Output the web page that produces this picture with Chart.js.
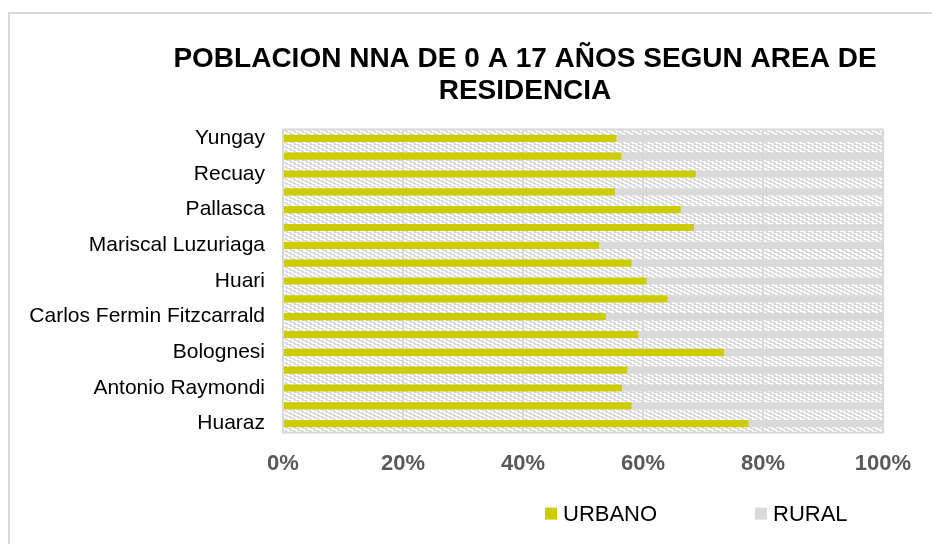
<!DOCTYPE html>
<html>
<head>
<meta charset="utf-8">
<script src="https://cdn.jsdelivr.net/npm/chart.js@4.4.1/dist/chart.umd.min.js"></script>
<style>
  html, body { margin:0; padding:0; background:#fff; overflow:hidden; width:932px; height:544px; }
  #wrap { position:absolute; left:8px; top:12px; width:1030px; height:530px;
          border-left:2px solid #d9d9d9; border-top:2px solid #d9d9d9; }
  #chart { display:block; }
</style>
</head>
<body>
<div id="wrap"><canvas id="chart" width="1030" height="530"></canvas></div>
<script>
// ====== datos ======
const provincias = ["Yungay","Sihuas","Recuay","Pomabamba","Pallasca","Ocros","Mariscal Luzuriaga","Huaylas",
  "Huari","Corongo","Carlos Fermin Fitzcarrald","Carhuaz","Bolognesi","Asuncion","Antonio Raymondi","Aija","Huaraz"];
const urbano = [55.6, 56.4, 68.8, 55.3, 66.3, 68.5, 52.7, 58.1, 60.6, 64.1, 53.8, 59.2, 73.5, 57.4, 56.5, 58.1, 77.6];
const rural  = [44.4, 43.6, 31.2, 44.7, 33.7, 31.5, 47.3, 41.9, 39.4, 35.9, 46.2, 40.8, 26.5, 42.6, 43.5, 41.9, 22.4];
const xTicks = [0, 20, 40, 60, 80, 100];

const GOLD = '#cccc00';
const GREY = '#d9d9d9';

// ====== fondo rayado del area de trazado ======
function makePattern(ctx){
  const c = document.createElement('canvas');
  c.width = 8; c.height = 4;
  const p = c.getContext('2d');
  p.fillStyle = '#fff'; p.fillRect(0,0,8,4);
  p.fillStyle = GREY;
  p.fillRect(0,0,5,1);
  p.fillRect(3,1,3,1);
  p.fillRect(4,2,4,1); p.fillRect(0,2,1,1);
  p.fillRect(7,3,1,1); p.fillRect(0,3,2,1);
  return ctx.createPattern(c,'repeat');
}

const plotBg = {
  id: 'plotBg',
  beforeDraw(chart){
    const {ctx, chartArea:a} = chart;
    ctx.save();
    ctx.fillStyle = makePattern(ctx);
    ctx.fillRect(a.left, a.top, a.right-a.left, a.bottom-a.top);
    ctx.strokeStyle = GREY; ctx.lineWidth = 2;
    ctx.strokeRect(a.left, a.top, a.right-a.left, a.bottom-a.top);
    ctx.restore();
  }
};

// leyenda abajo, desplazada como en el original
const legendBottom = {
  id: 'legendBottom',
  afterDraw(chart){
    const {ctx, chartArea:a} = chart;
    const xs = [a.left + 262, a.left + 472];
    const y = a.bottom + 81;
    ctx.save();
    ctx.font = '22px "Liberation Sans", Arial, sans-serif';
    ctx.textBaseline = 'middle';
    chart.data.datasets.forEach((ds,i)=>{
      ctx.fillStyle = ds.backgroundColor;
      ctx.fillRect(xs[i], y-6, 12, 12);
      ctx.fillStyle = '#000';
      ctx.fillText(ds.label, xs[i]+18, y+1);
    });
    ctx.restore();
  }
};

new Chart(document.getElementById('chart'), {
  type: 'bar',
  data: {
    labels: provincias,
    datasets: [
      { label:'URBANO', data: urbano, backgroundColor: GOLD, borderWidth:0,
        categoryPercentage:0.8, barPercentage:0.5 },
      { label:'RURAL',  data: rural,  backgroundColor: GREY, borderWidth:0,
        categoryPercentage:0.8, barPercentage:0.5 }
    ]
  },
  options: {
    indexAxis: 'y',
    responsive: false,
    animation: false,
    layout: { padding: { top:0, left:0, right:0, bottom:49 } },
    scales: {
      x: {
        stacked: true, min: 0, max: 100,
        afterBuildTicks: s => { s.ticks = xTicks.map(v => ({value:v})); },
        grid: { color: GREY, lineWidth: 2, drawTicks: false },
        border: { display: false },
        ticks: { padding: 18, color: '#595959',
          font: { family:'"Liberation Sans", Arial, sans-serif', size: 22, weight: 'bold' },
          callback: v => v + '%' }
      },
      y: {
        stacked: true,
        grid: { display: false },
        border: { display: false },
        afterFit: s => { s.width = 273; },
        ticks: { autoSkip: false, padding: 10, color: '#000',
          font: { family:'"Liberation Sans", Arial, sans-serif', size: 21 },
          callback: (v, i) => i % 2 === 0 ? provincias[i] : '' }
      },
      pad: {
        type: 'linear', position: 'right', display: true,
        grid: { display: false }, border: { display: false },
        ticks: { display: false },
        afterFit: s => { s.width = 157; }
      }
    },
    plugins: {
      legend: { display: false },
      tooltip: { enabled: false },
      title: {
        display: true,
        text: ['POBLACION NNA DE 0 A 17 AÑOS SEGUN AREA DE', 'RESIDENCIA'],
        color: '#000',
        font: { family:'"Liberation Sans", Arial, sans-serif', size: 28, weight: 'bold', lineHeight: 1.15 },
        padding: { top: 29, bottom: 22 }
      }
    }
  },
  plugins: [plotBg, legendBottom]
});
</script>
</body>
</html>
